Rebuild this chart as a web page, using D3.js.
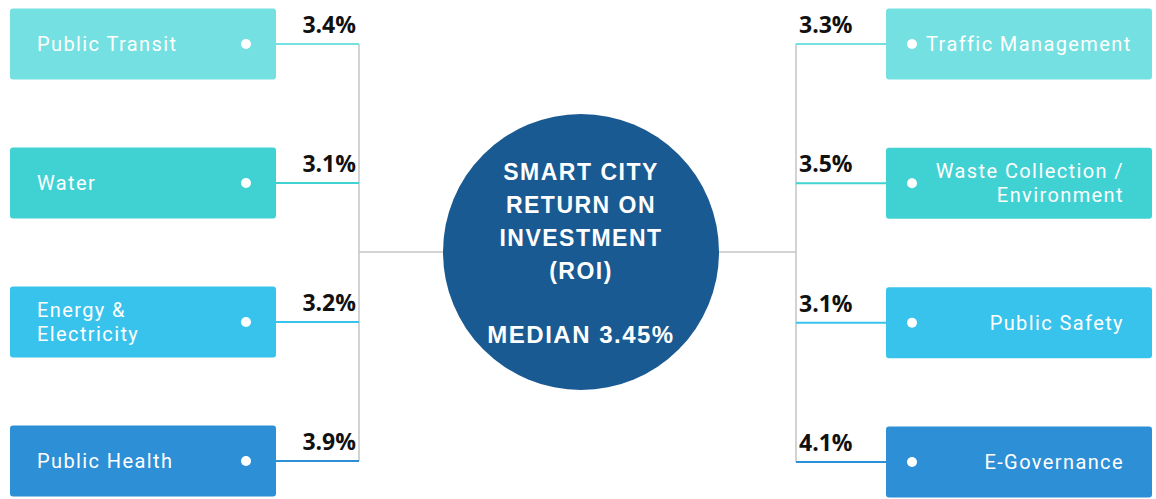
<!DOCTYPE html>
<html>
<head>
  <title>Smart City ROI</title>
  <style>
    body { margin: 0; background: #fff; }
    .box-label { font-family: Roboto, "Liberation Sans", sans-serif; font-size: 20px; fill: #fff; letter-spacing: 1.4px; }
    .pct { font-family: "Open Sans", "Liberation Sans", sans-serif; font-size: 23px; font-weight: bold; fill: #111; }
    .hub-text { font-family: "Liberation Sans", Arial, sans-serif; font-weight: bold; fill: #fff; text-anchor: middle; letter-spacing: 1.5px; }
  </style>
</head>
<body>
  <svg id="chart"></svg>
  <script src="https://d3js.org/d3.v7.min.js"></script>
  <script>
    const leftCategories = ["Public Transit", "Water", "Energy & Electricity", "Public Health"];
    const leftLines = [["Public Transit"], ["Water"], ["Energy &", "Electricity"], ["Public Health"]];
    const leftValues = [3.4, 3.1, 3.2, 3.9];

    const rightCategories = ["Traffic Management", "Waste Collection / Environment", "Public Safety", "E-Governance"];
    const rightLines = [["Traffic Management"], ["Waste Collection /", "Environment"], ["Public Safety"], ["E-Governance"]];
    const rightValues = [3.3, 3.5, 3.1, 4.1];

    const hubLines = ["SMART CITY", "RETURN ON", "INVESTMENT", "(ROI)"];
    const medianValue = 3.45;

    const rowColors = ["#74e0e1", "#40d2d3", "#38c3ec", "#2d8fd6"];

    const width = 1156, height = 499;
    const svg = d3.select("#chart").attr("width", width).attr("height", height);

    const rows = d3.range(4);
    const yLeft = d3.scalePoint().domain(rows).range([44, 461]);
    const yRight = d3.scalePoint().domain(rows).range([44, 462]);

    const boxH = 71, boxW = 266;
    const cx = 581, cy = 252, r = 138;

    // spine lines
    const leftSpineX = 359, rightSpineX = 796;
    svg.append("line")
      .attr("x1", leftSpineX).attr("x2", leftSpineX)
      .attr("y1", yLeft(0)).attr("y2", yLeft(3))
      .attr("stroke", "#c4c4c4").attr("stroke-width", 1.5);
    svg.append("line")
      .attr("x1", rightSpineX).attr("x2", rightSpineX)
      .attr("y1", yRight(0)).attr("y2", yRight(3))
      .attr("stroke", "#c4c4c4").attr("stroke-width", 1.5);
    svg.append("line")
      .attr("x1", leftSpineX).attr("x2", cx)
      .attr("y1", cy).attr("y2", cy)
      .attr("stroke", "#c4c4c4").attr("stroke-width", 1.5);
    svg.append("line")
      .attr("x1", cx).attr("x2", rightSpineX)
      .attr("y1", cy).attr("y2", cy)
      .attr("stroke", "#c4c4c4").attr("stroke-width", 1.5);

    function drawSide(cats, lines, values, y, side) {
      const boxX = side === "left" ? 10 : 886;
      const labelX = side === "left" ? 37 : 1124;
      const g = svg.append("g").selectAll("g")
        .data(cats.map((c, i) => ({ c, i, lines: lines[i], v: values[i] })))
        .join("g");

      g.append("rect")
        .attr("x", boxX)
        .attr("y", d => y(d.i) - boxH / 2)
        .attr("width", boxW).attr("height", boxH)
        .attr("rx", 3)
        .attr("fill", d => rowColors[d.i]);

      // connector to spine
      g.append("line")
        .attr("x1", side === "left" ? boxX + boxW : rightSpineX)
        .attr("x2", side === "left" ? leftSpineX : boxX)
        .attr("y1", d => y(d.i)).attr("y2", d => y(d.i))
        .attr("stroke", d => rowColors[d.i]).attr("stroke-width", 2);

      g.append("circle")
        .attr("cx", side === "left" ? 246 : 912)
        .attr("cy", d => y(d.i))
        .attr("r", 5)
        .attr("fill", "#fff");

      const spans = g.append("text")
        .attr("class", "box-label")
        .attr("text-anchor", side === "left" ? "start" : "end")
        .attr("x", labelX)
        .attr("y", d => y(d.i) - (d.lines.length - 1) * 12)
        .selectAll("tspan")
        .data(d => d.lines)
        .join("tspan")
        .attr("x", labelX)
        .attr("dy", (d, i) => i === 0 ? "0.35em" : "24px")
        .text(d => d);

      // long right-hand labels get pushed toward the box edge so they clear the dot
      if (side === "right") {
        spans.each(function() {
          const len = this.getComputedTextLength();
          if (labelX - len < 926) d3.select(this).attr("x", 926 + len);
        });
      }

      g.append("text")
        .attr("class", "pct")
        .attr("text-anchor", side === "left" ? "end" : "start")
        .attr("x", side === "left" ? 356 : 799)
        .attr("y", d => y(d.i) - 11)
        .text(d => d3.format(".1f")(d.v) + "%");
    }

    drawSide(leftCategories, leftLines, leftValues, yLeft, "left");
    drawSide(rightCategories, rightLines, rightValues, yRight, "right");

    // hub
    svg.append("circle")
      .attr("cx", cx).attr("cy", cy).attr("r", r)
      .attr("fill", "#195a92");

    svg.append("g").selectAll("text")
      .data(hubLines)
      .join("text")
      .attr("class", "hub-text")
      .attr("x", cx)
      .attr("y", (d, i) => 172 + i * 33)
      .attr("dy", "0.35em")
      .style("font-size", "23px")
      .text(d => d);

    svg.append("text")
      .attr("class", "hub-text")
      .attr("x", cx)
      .attr("y", 335)
      .attr("dy", "0.35em")
      .style("font-size", "24px")
      .text("MEDIAN " + medianValue + "%");
  </script>
</body>
</html>
